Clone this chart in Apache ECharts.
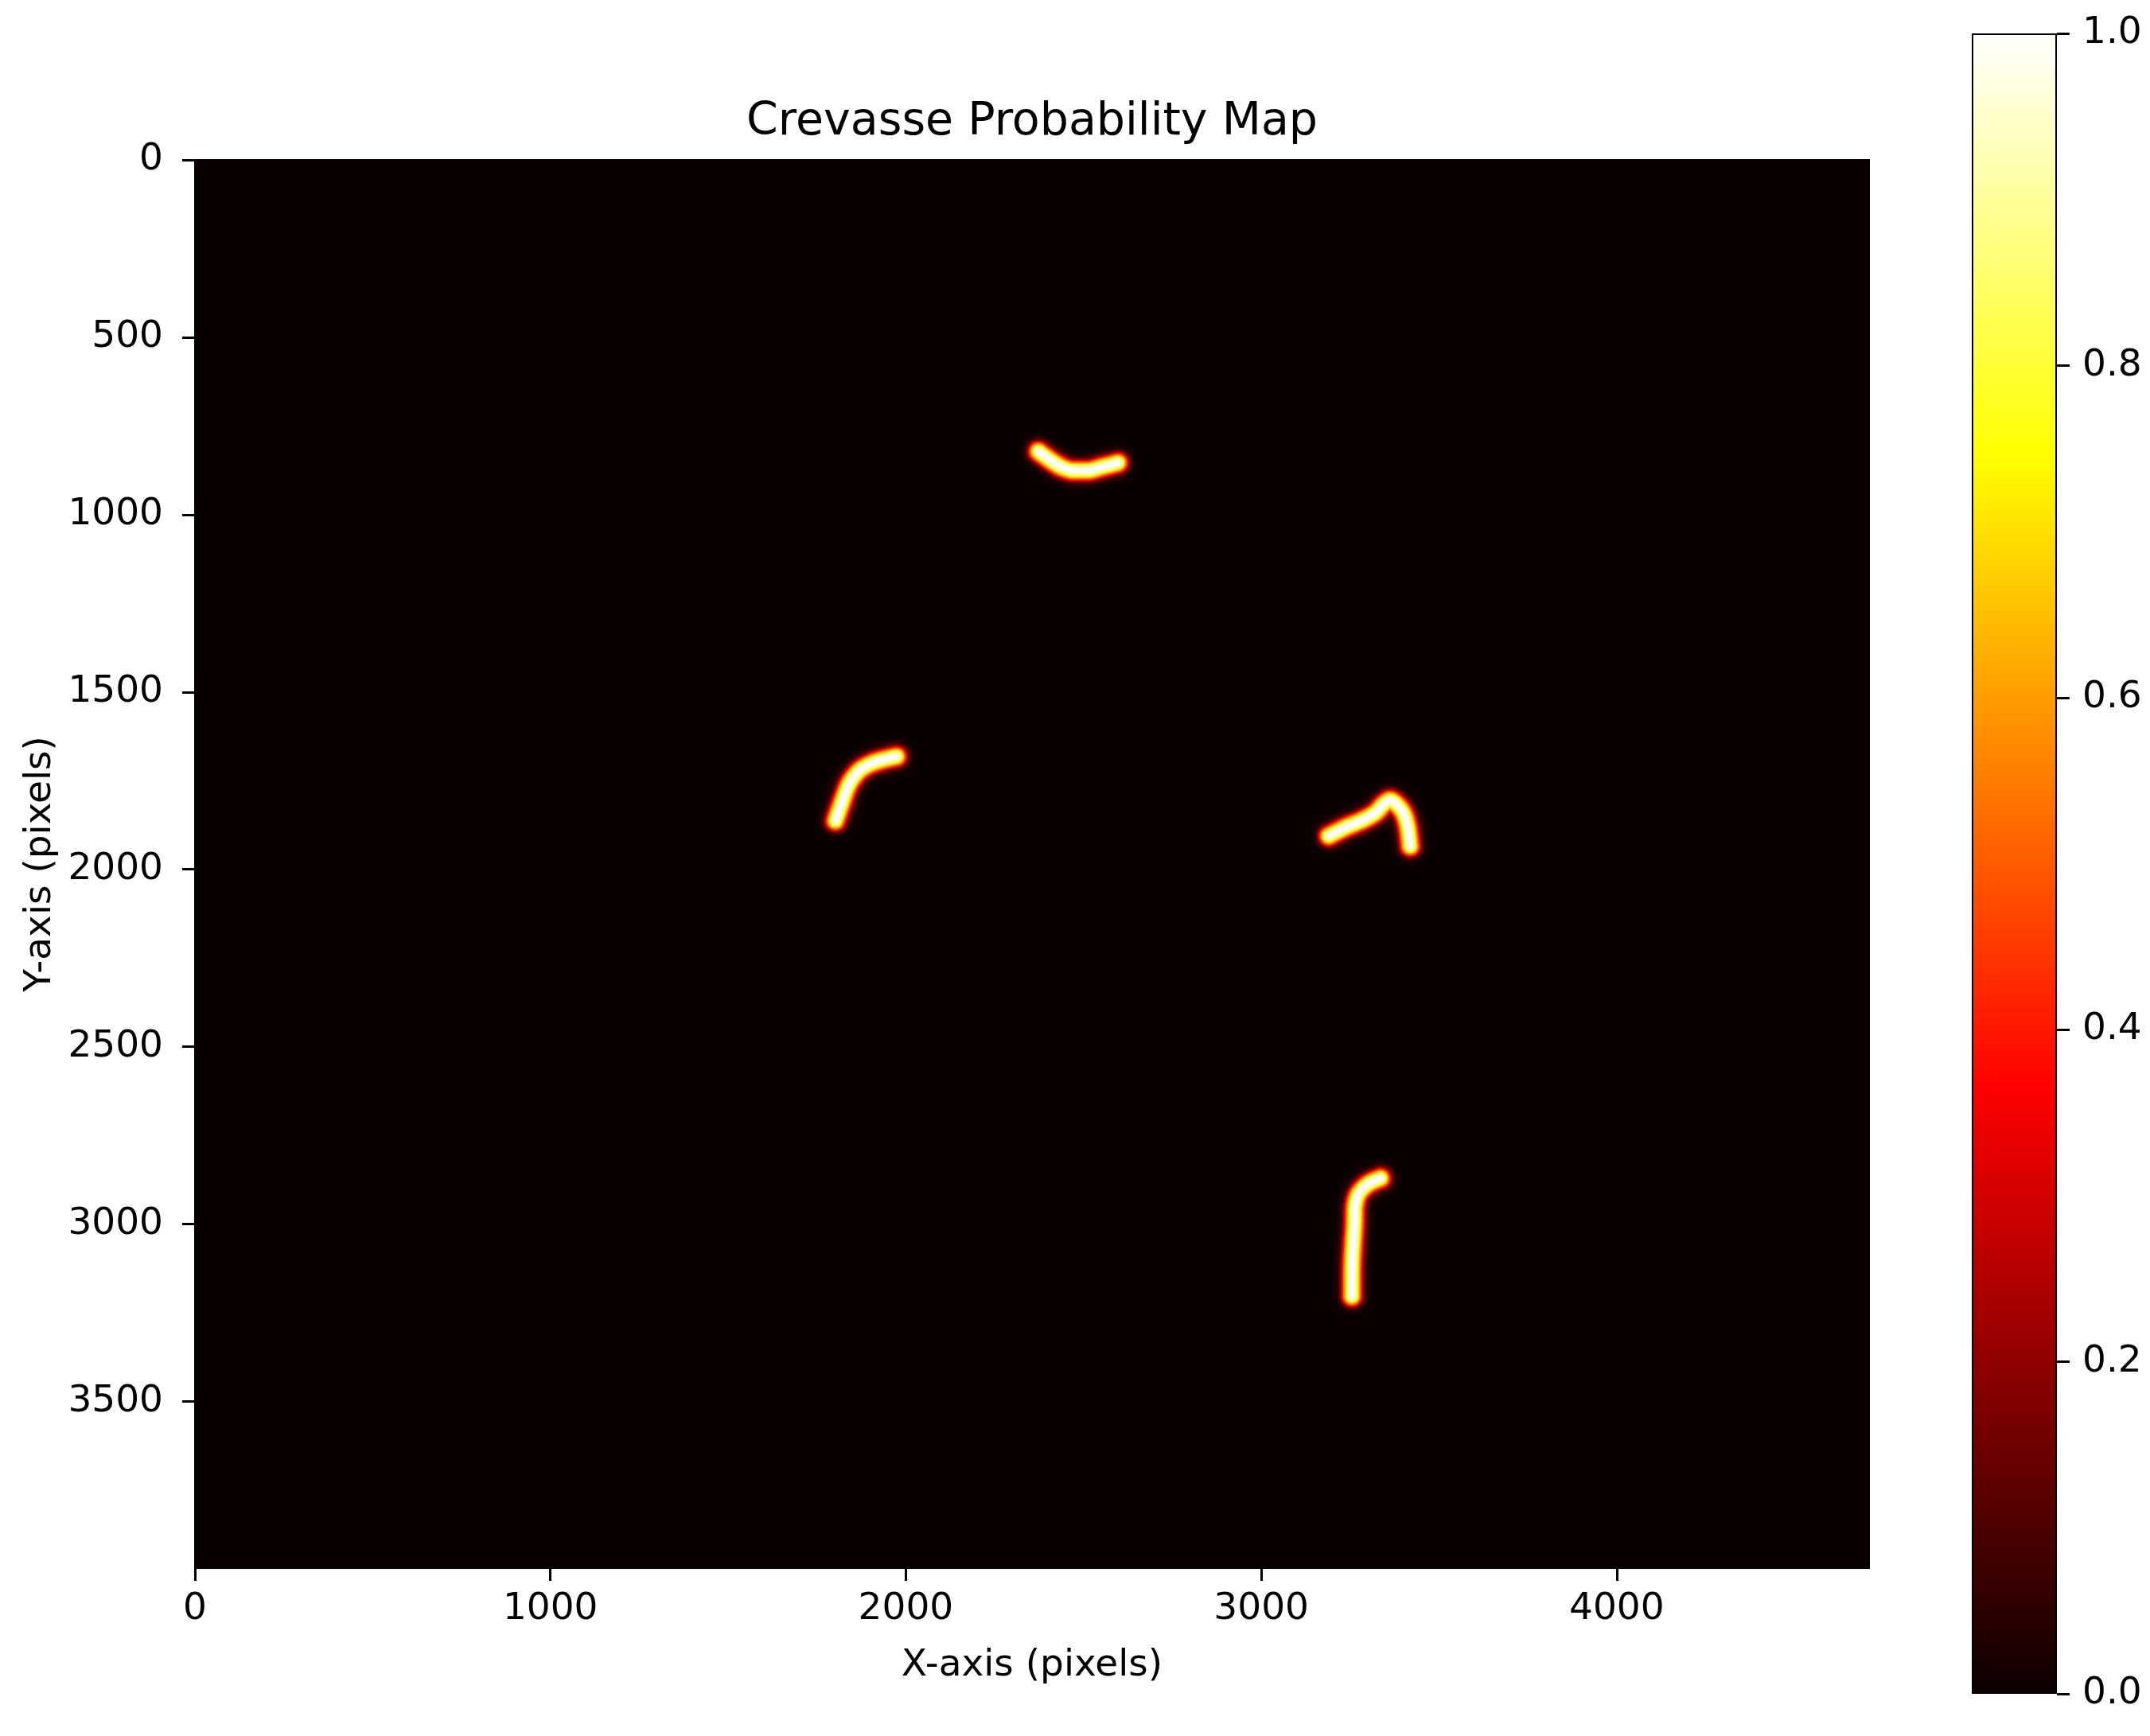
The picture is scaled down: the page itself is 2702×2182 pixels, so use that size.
<!DOCTYPE html>
<html>
<head>
<meta charset="utf-8">
<script src="https://cdn.jsdelivr.net/npm/echarts@6/dist/echarts.min.js"></script>
<style>
  html, body { margin: 0; padding: 0; background: #ffffff; }
  #chart { width: 2702px; height: 2182px; }
</style>
</head>
<body>
<div id="chart"></div>
<script>
// ---------------- DATA ----------------
const chartTitle = 'Crevasse Probability Map';
const xAxisName = 'X-axis (pixels)';
const yAxisName = 'Y-axis (pixels)';
const imageWidth = 4710;   // image extent in pixels (x)
const imageHeight = 3970;  // image extent in pixels (y)
const xTicks = [0, 1000, 2000, 3000, 4000];
const yTicks = [0, 500, 1000, 1500, 2000, 2500, 3000, 3500];
const colorbarTicks = [0.0, 0.2, 0.4, 0.6, 0.8, 1.0];

// crevasse centre lines (high-probability ridges), [x, y] in image pixels
const crevasseTop = [[2373, 822], [2400, 842], [2436, 865], [2474, 876], [2512, 876], [2548, 867], [2597, 854]];
const crevasseLeft = [[1802, 1863], [1818, 1818], [1840, 1760], [1869, 1722], [1907, 1700], [1943, 1689], [1974, 1682]];
const crevasseRight = [[3190, 1906], [3235, 1883], [3286, 1861], [3322, 1840], [3346, 1815], [3362, 1805], [3380, 1816], [3400, 1842], [3412, 1880], [3419, 1935]];
const crevasseBottom = [[3336, 2871], [3302, 2886], [3275, 2913], [3264, 2947], [3262, 3005], [3257, 3081], [3255, 3148], [3255, 3204]];
const crevasses = [crevasseTop, crevasseLeft, crevasseRight, crevasseBottom];

// probability levels drawn as nested bands around each centre line
const bandLevels = [0.04, 0.12, 0.25, 0.38, 0.5, 0.62, 0.74, 0.84, 0.93, 1.0];

// ---------------- STYLE ----------------
const bandWidths = [36, 32, 28, 25, 22, 19, 16, 13, 10, 6];
const FONT = 'DejaVu Sans';

// matplotlib "hot" colormap
function hot(v) {
  const r = v < 0.365079 ? 0.0416 + (1 - 0.0416) * v / 0.365079 : 1;
  const g = v < 0.365079 ? 0 : (v < 0.746032 ? (v - 0.365079) / (0.746032 - 0.365079) : 1);
  const b = v < 0.746032 ? 0 : (v - 0.746032) / (1 - 0.746032);
  const c = x => Math.round(Math.max(0, Math.min(1, x)) * 255);
  return 'rgb(' + c(r) + ',' + c(g) + ',' + c(b) + ')';
}

const plot = { left: 245, top: 201, width: 2104, height: 1770 };
const cbar = { left: 2478, top: 42, width: 107, height: 2087 };

const series = [];
crevasses.forEach(function (pts) {
  bandLevels.forEach(function (lv, i) {
    series.push({
      type: 'line',
      xAxisIndex: 0, yAxisIndex: 0,
      data: pts,
      smooth: 0.25,
      symbol: 'none',
      silent: true,
      animation: false,
      z: 2 + i,
      lineStyle: {
        color: hot(lv),
        width: bandWidths[i],
        cap: 'round',
        join: 'round',
        shadowBlur: i < 2 ? 8 : 2,
        shadowColor: hot(lv)
      }
    });
  });
});

// colorbar
series.push({
  type: 'bar',
  xAxisIndex: 1, yAxisIndex: 1,
  data: [1],
  barWidth: '100%',
  silent: true,
  animation: false,
  itemStyle: {
    borderColor: '#000',
    borderWidth: 2,
    color: {
      type: 'linear', x: 0, y: 1, x2: 0, y2: 0,
      colorStops: [
        { offset: 0, color: hot(0) },
        { offset: 0.365079, color: hot(0.365079) },
        { offset: 0.746032, color: hot(0.746032) },
        { offset: 1, color: hot(1) }
      ]
    }
  }
});

const labelStyle = { color: '#000', fontFamily: FONT, fontSize: 47 };
const plainNumber = function (v) { return String(v); };

const option = {
  backgroundColor: '#ffffff',
  animation: false,
  graphic: [{
    type: 'text',
    x: plot.left + plot.width / 2,
    y: 154,
    style: {
      text: chartTitle,
      font: '57px "DejaVu Sans"',
      fill: '#000',
      textAlign: 'center',
      textVerticalAlign: 'middle'
    }
  }],
  grid: [
    {
      left: plot.left, top: plot.top, width: plot.width, height: plot.height,
      show: true, backgroundColor: hot(0), borderColor: '#000', borderWidth: 2
    },
    {
      left: cbar.left, top: cbar.top, width: cbar.width, height: cbar.height,
      show: false
    }
  ],
  xAxis: [
    {
      gridIndex: 0, type: 'value', min: 0, max: imageWidth,
      name: xAxisName, nameLocation: 'middle', nameGap: 99,
      nameTextStyle: labelStyle,
      axisLine: { show: true, onZero: false, lineStyle: { color: '#000', width: 2 } },
      axisTick: { show: true, length: 16, lineStyle: { color: '#000', width: 3 }, customValues: xTicks },
      axisLabel: Object.assign({ margin: 28, customValues: xTicks, formatter: plainNumber }, labelStyle),
      splitLine: { show: false }
    },
    {
      gridIndex: 1, type: 'category', data: ['cb'], show: false
    }
  ],
  yAxis: [
    {
      gridIndex: 0, type: 'value', min: 0, max: imageHeight, inverse: true,
      name: yAxisName, nameLocation: 'middle', nameGap: 152, nameRotate: 90,
      nameTextStyle: labelStyle,
      axisLine: { show: true, onZero: false, lineStyle: { color: '#000', width: 2 } },
      axisTick: { show: true, length: 16, lineStyle: { color: '#000', width: 3 }, customValues: yTicks },
      axisLabel: Object.assign({ margin: 40, customValues: yTicks, formatter: plainNumber }, labelStyle),
      splitLine: { show: false }
    },
    {
      gridIndex: 1, type: 'value', min: 0, max: 1, position: 'right',
      axisLine: { show: false },
      axisTick: { show: true, length: 16, lineStyle: { color: '#000', width: 3 }, customValues: colorbarTicks },
      axisLabel: Object.assign({
        margin: 32, customValues: colorbarTicks,
        formatter: function (v) { return Number(v).toFixed(1); }
      }, labelStyle),
      splitLine: { show: false }
    }
  ],
  series: series
};

const chart = echarts.init(document.getElementById('chart'), null, { renderer: 'canvas' });
chart.setOption(option);
</script>
</body>
</html>
